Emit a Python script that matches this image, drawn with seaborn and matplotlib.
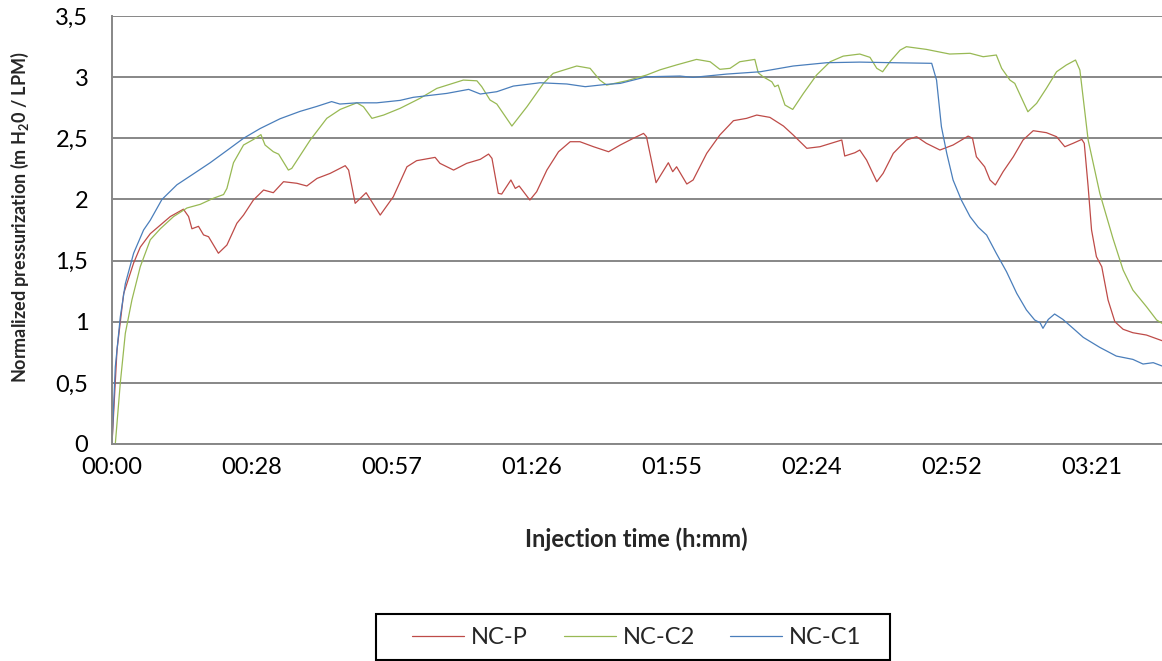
import matplotlib
matplotlib.use("Agg")
import matplotlib.pyplot as plt
from matplotlib.patches import Rectangle
import seaborn as sns
import pandas as pd

# --- data (time in minutes, normalized pressurization in m H2O / LPM) ---
ncp_t = [0, 1.03, 2.4, 4.45, 5.82, 7.88, 9.94, 12.0, 14.7, 15.76, 16.45, 17.8, 18.84, 19.87,
         21.9, 23.65, 25.7, 27.07, 29.1, 31.2, 33.2, 35.3, 38.05, 40.1, 42.2, 44.9, 48.0, 48.7,
         50.05, 52.3, 55.2, 57.9, 60.7, 62.7, 66.5, 67.5, 70.3, 73.0, 75.8, 77.5, 78.2, 79.5,
         80.2, 82.1, 83.0, 83.8, 86.0, 87.4, 89.5, 91.9, 94.3, 96.3, 99.1, 102.2, 104.6, 107.3,
         109.4, 110.0, 111.97, 114.5, 115.4, 116.2, 118.3, 119.6, 122.4, 125.1, 127.9, 130.6,
         132.7, 135.4, 138.2, 140.2, 143.0, 145.7, 148.4, 150.2, 150.8, 152.9, 153.9, 155.3,
         157.4, 158.7, 160.8, 163.5, 165.6, 167.6, 170.4, 173.1, 176.2, 177.1, 177.9, 179.6,
         180.7, 181.8, 183.4, 185.5, 187.5, 189.6, 192.3, 194.4, 196.1, 197.8, 199.6, 200.1,
         200.9, 201.6, 202.6, 203.7, 205.0, 206.4, 208.1, 210.1, 212.9, 216.1]
ncp_v = [0, 0.77, 1.23, 1.48, 1.61, 1.72, 1.79, 1.86, 1.92, 1.86, 1.76, 1.78, 1.71, 1.695,
         1.56, 1.627, 1.805, 1.872, 1.995, 2.077, 2.055, 2.145, 2.132, 2.11, 2.172, 2.213, 2.276, 2.24,
         1.968, 2.055, 1.872, 2.022, 2.267, 2.317, 2.344, 2.295, 2.24, 2.295, 2.328, 2.371, 2.336, 2.05,
         2.044, 2.159, 2.09, 2.11, 1.995, 2.063, 2.24, 2.39, 2.472, 2.472, 2.431, 2.39, 2.445, 2.5,
         2.54, 2.513, 2.137, 2.30, 2.227, 2.267, 2.126, 2.159, 2.377, 2.527, 2.644, 2.663,
         2.69, 2.671, 2.60, 2.527, 2.418, 2.431, 2.464, 2.486, 2.355, 2.382, 2.404, 2.322,
         2.145, 2.213, 2.377, 2.486, 2.513, 2.459, 2.404, 2.445, 2.518, 2.50, 2.349, 2.267,
         2.159, 2.118, 2.227, 2.349, 2.486, 2.562, 2.546, 2.513, 2.431, 2.459, 2.491, 2.459,
         2.104, 1.75, 1.532, 1.45, 1.177, 1.0, 0.938, 0.91, 0.891, 0.845]

ncc2_t = [0.68, 1.71, 2.74, 4.11, 5.82, 7.88, 9.94, 12.68, 15.43, 18.17, 20.9, 22.96, 23.65, 25.0,
          27.07, 29.1, 30.65, 31.5, 33.2, 34.3, 36.3, 37.0, 40.8, 44.2, 46.96, 50.4, 51.75, 53.5,
          55.9, 59.3, 63.4, 66.85, 72.3, 75.1, 76.1, 77.8, 79.2, 82.3, 85.4, 88.8, 90.8, 95.65,
          98.4, 100.4, 101.8, 105.9, 110.0, 112.8, 116.2, 120.3, 123.1, 125.1, 127.2, 129.2, 132.3,
          133.0, 134.0, 135.8, 136.4, 137.1, 138.5, 140.1, 142.3, 145.0, 147.8, 150.5, 153.9,
          156.0, 157.4, 158.6, 160.1, 162.2, 163.5, 167.6, 172.4, 176.6, 179.3, 182.0, 183.1,
          184.8, 185.8, 188.5, 190.3, 192.3, 194.4, 196.4, 198.3, 199.2, 200.9, 203.3, 206.0,
          208.1, 210.1, 212.9, 215.0, 216.1]
ncc2_v = [0, 0.50, 0.905, 1.18, 1.45, 1.67, 1.76, 1.86, 1.93, 1.96, 2.01, 2.04, 2.09, 2.30,
          2.445, 2.49, 2.53, 2.445, 2.39, 2.37, 2.24, 2.254, 2.486, 2.663, 2.736, 2.79, 2.758, 2.663,
          2.69, 2.745, 2.827, 2.908, 2.976, 2.97, 2.922, 2.813, 2.78, 2.60, 2.758, 2.949, 3.031, 3.091,
          3.072, 2.976, 2.935, 2.97, 3.017, 3.06, 3.10, 3.145, 3.126, 3.064, 3.072, 3.126, 3.145,
          3.036, 3.003, 2.962, 2.922, 2.935, 2.772, 2.736, 2.867, 3.017, 3.126, 3.172, 3.189,
          3.162, 3.072, 3.044, 3.126, 3.221, 3.249, 3.227, 3.189, 3.195, 3.167, 3.181, 3.072,
          2.976, 2.949, 2.717, 2.786, 2.908, 3.044, 3.099, 3.14, 3.058, 2.486, 2.05, 1.682,
          1.423, 1.259, 1.123, 1.014, 0.987]

ncc1_t = [0, 0.68, 1.71, 2.74, 4.45, 6.5, 7.88, 10.28, 13.37, 16.8, 20.2, 23.65, 27.07, 30.5,
          34.6, 38.7, 42.1, 45.2, 46.9, 50.4, 54.5, 59.3, 62.0, 68.9, 73.4, 75.8, 79.2, 82.6,
          88.1, 93.6, 97.4, 101.8, 104.6, 110.0, 116.9, 119.6, 126.5, 133.4, 140.2, 147.1, 153.9,
          160.8, 168.7, 169.7, 170.7, 171.8, 173.1, 174.8, 176.6, 178.3, 180.0, 182.0, 184.1,
          186.2, 188.2, 189.9, 191.0, 191.6, 192.7, 194.0, 195.7, 197.8, 199.9, 203.3, 206.7,
          210.1, 212.2, 214.3, 216.1]
ncc1_v = [0, 0.63, 1.04, 1.31, 1.56, 1.75, 1.83, 2.0, 2.12, 2.21, 2.30, 2.40, 2.50, 2.58,
          2.66, 2.72, 2.76, 2.80, 2.78, 2.79, 2.79, 2.81, 2.835, 2.867, 2.90, 2.862, 2.881, 2.927,
          2.954, 2.944, 2.922, 2.941, 2.949, 3.003, 3.009, 2.998, 3.025, 3.044, 3.091, 3.118, 3.123,
          3.118, 3.113, 2.976, 2.595, 2.377, 2.159, 1.995, 1.859, 1.772, 1.709, 1.559, 1.409,
          1.232, 1.096, 1.014, 0.992, 0.946, 1.019, 1.063, 1.019, 0.946, 0.872, 0.79, 0.719,
          0.692, 0.654, 0.665, 0.638]

series_names = ["NC-P", "NC-C2", "NC-C1"]
series_colors = ["#BE4B48", "#98B954", "#4A7EBB"]

x_tick_minutes = [0, 28.8, 57.6, 86.4, 115.2, 144.0, 172.8, 201.6]
x_tick_labels = ["00:00", "00:28", "00:57", "01:26", "01:55", "02:24", "02:52", "03:21"]
y_ticks = [0, 0.5, 1, 1.5, 2, 2.5, 3, 3.5]
y_tick_labels = ["0", "0,5", "1", "1,5", "2", "2,5", "3", "3,5"]

frames = []
for name, t, v in [("NC-P", ncp_t, ncp_v), ("NC-C2", ncc2_t, ncc2_v), ("NC-C1", ncc1_t, ncc1_v)]:
    frames.append(pd.DataFrame({"minutes": t, "value": v, "series": name}))
df = pd.concat(frames, ignore_index=True)

sns.set_theme(style="white")
plt.rcParams["font.family"] = ["Lato", "DejaVu Sans"]
plt.rcParams["mathtext.fontset"] = "custom"
plt.rcParams["mathtext.rm"] = "Lato"
plt.rcParams["mathtext.bf"] = "Lato:bold"

W, H = 1162, 661
fig = plt.figure(figsize=(W / 100, H / 100), dpi=100)
ax = fig.add_axes([112 / W, 1 - 444 / H, (W - 112) / W, (444 - 16) / H])

grid_col = "#878787"
ax.set_axisbelow(True)
for yv in y_ticks:
    ax.axhline(yv, color=grid_col, lw=1.4, zorder=0)

sns.lineplot(data=df, x="minutes", y="value", hue="series", hue_order=series_names,
             palette=dict(zip(series_names, series_colors)), sort=False, estimator=None,
             lw=0.9, ax=ax, legend=False)

ax.set_xlim(0, 216.1)
ax.set_ylim(0, 3.5)
ax.set_xticks(x_tick_minutes)
ax.set_xticklabels(x_tick_labels)
ax.set_yticks(y_ticks)
ax.set_yticklabels(y_tick_labels)
ax.tick_params(axis="both", labelsize=17, colors=grid_col, labelcolor="black",
               length=6, width=1.2, direction="out")
ax.tick_params(axis="x", pad=3)
ax.tick_params(axis="y", pad=11)
ax.set_xlabel("")
ax.set_ylabel("")
for side in ["top", "right"]:
    ax.spines[side].set_visible(False)
for side in ["left", "bottom"]:
    ax.spines[side].set_color(grid_col)
    ax.spines[side].set_linewidth(1.4)

fig.text(636 / W, 1 - 539 / H, "Injection time (h:mm)", ha="center", va="center",
         fontsize=17, fontweight="bold")
fig.text(20 / W, 1 - 217 / H, r"Normalized pressurization (m H$_\mathbf{2}$0 / LPM)",
         ha="center", va="center", rotation=90, fontsize=13, fontweight="bold")

# legend box drawn as a plain rectangle, entries centred inside it
fig.patches.append(Rectangle((376 / W, 1 - 660 / H), (890 - 376) / W, (660 - 614) / H,
                             transform=fig.transFigure, fill=False, edgecolor="black",
                             lw=1.5, zorder=5))
handles = [plt.Line2D([], [], color=c, lw=0.9) for c in series_colors]
leg = fig.legend(handles, series_names, loc="center", bbox_to_anchor=(637 / W, 1 - 638 / H),
                 ncol=3, fontsize=17, frameon=False,
                 handlelength=2.2, handletextpad=0.3, columnspacing=1.5)

fig.savefig("out.png", dpi=100)
